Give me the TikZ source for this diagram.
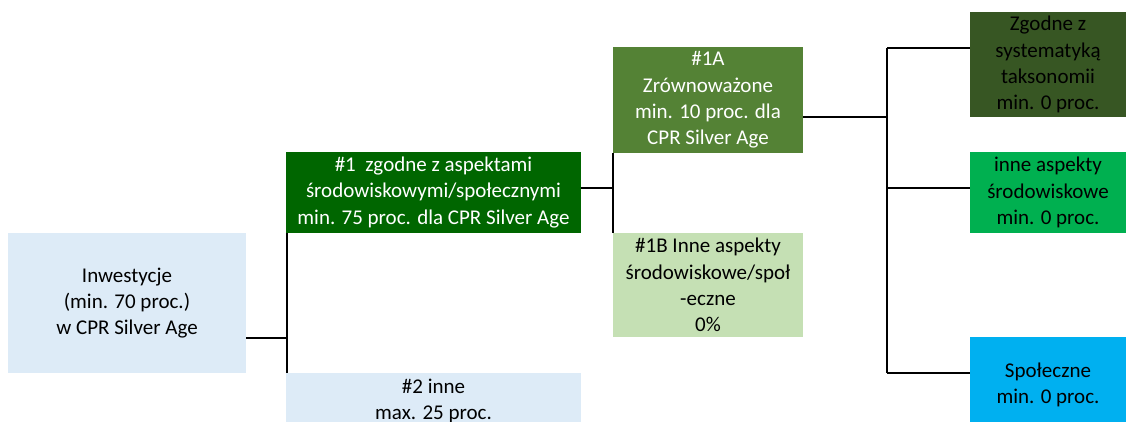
\documentclass[tikz,border=0pt]{standalone}
\usepackage{fontspec}
\setmainfont{Carlito}
\definecolor{lightblue}{HTML}{DDEBF7}
\definecolor{darkgreen}{HTML}{006600}
\definecolor{midgreen}{HTML}{548235}
\definecolor{palegreen}{HTML}{C5E0B4}
\definecolor{olive}{HTML}{375623}
\definecolor{brightgreen}{HTML}{00B050}
\definecolor{skyblue}{HTML}{00B0F0}
\tikzset{
  box/.style={rectangle, inner sep=0pt, outer sep=0pt, align=center,
    font=\fontsize{21}{26.2}\selectfont},
  link/.style={draw=black, line width=1.3pt}
}
\begin{document}
\begin{tikzpicture}[x=1pt,y=-1pt]
\clip (0,0) rectangle (1128,421);
\fill[white] (0,0) rectangle (1128,421);
% boxes: centre at ((x1+x2)/2,(y1+y2)/2)
\node[box, fill=lightblue, minimum width=238, minimum height=140] (inw) at (127,303)
  {Inwestycje\\(min. 70 proc.)\\w CPR Silver Age};
\node[box, fill=darkgreen, text=white, minimum width=295, minimum height=81] (one) at (433.5,192.5)
  {\#1\ \ zgodne z aspektami\\środowiskowymi/społecznymi\\min. 75 proc. dla CPR Silver Age};
\node[box, fill=lightblue, minimum width=295, minimum height=56, anchor=north] (two) at (433.5,373)
  {\#2 inne\\max. 25 proc.};
\node[box, fill=midgreen, text=white, minimum width=190, minimum height=106] (oneA) at (708,100)
  {\#1A\\Zrównoważone\\min. 10 proc. dla\\CPR Silver Age};
\node[box, fill=palegreen, minimum width=190, minimum height=104] (oneB) at (708,285)
  {\#1B Inne aspekty\\środowiskowe/społ\\-eczne\\0\%};
\node[box, fill=olive, minimum width=156, minimum height=105] (tax) at (1048,64.5)
  {Zgodne z\\systematyką\\taksonomii\\min. 0 proc.};
\node[box, fill=brightgreen, minimum width=156, minimum height=81] (env) at (1048,192.5)
  {inne aspekty\\środowiskowe\\min. 0 proc.};
\node[box, fill=skyblue, minimum width=156, minimum height=96, anchor=north] (soc) at (1048,337)
  {Społeczne\\min. 0 proc.};
% junction coordinates
\coordinate (j1) at (287,338);
\coordinate (j2) at (613,188);
\coordinate (j3a) at (887,117);
\coordinate (j3t) at (887,48);
\coordinate (j3m) at (887,188);
\coordinate (j3b) at (887,373);
% connectors
\draw[link] (inw.east |- j1) -- (j1);
\draw[link] (one.south west) ++(1,0) coordinate (v1t) (v1t) -- (v1t |- two.north);
\draw[link] (one.east |- j2) -- (j2);
\draw[link] (oneA.south west) -- (oneB.north west);
\draw[link] (oneA.east |- j3a) -- (j3a);
\draw[link] (j3t) -- (j3b);
\draw[link] (j3t) -- (tax.west |- j3t);
\draw[link] (j3m) -- (env.west |- j3m);
\draw[link] (j3b) -- (soc.west |- j3b);
\end{tikzpicture}
\end{document}
